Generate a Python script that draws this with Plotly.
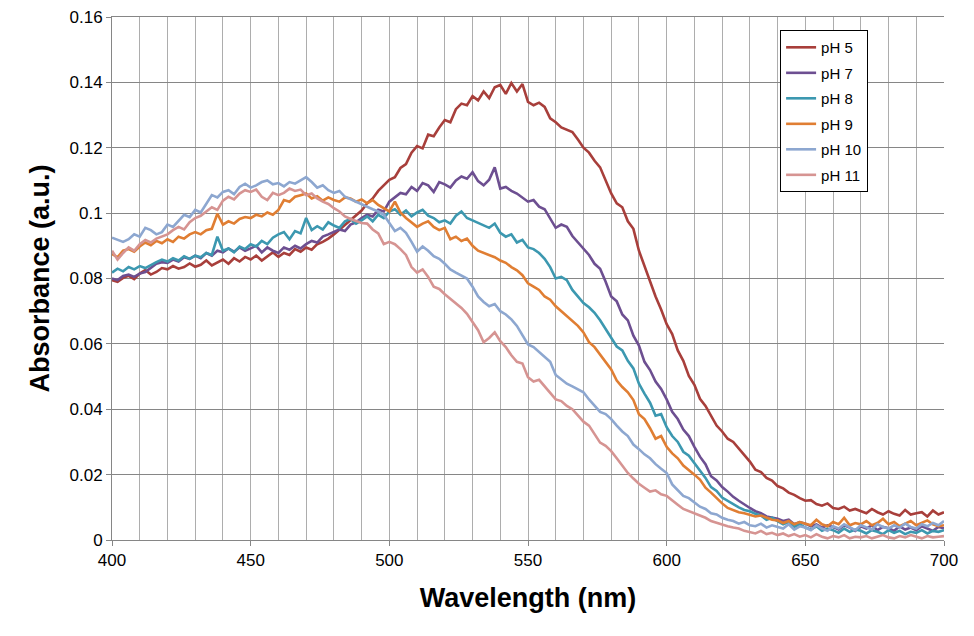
import plotly.graph_objects as go

wavelength = list(range(400, 701, 2))

ph5 = [0.0795, 0.0790, 0.0802, 0.0808, 0.0798, 0.0815, 0.0826, 0.0812, 0.0820, 0.0832,
       0.0828, 0.0838, 0.0830, 0.0835, 0.0846, 0.0836, 0.0842, 0.0855, 0.0840, 0.0850,
       0.0858, 0.0845, 0.0862, 0.0852, 0.0866, 0.0858, 0.0870, 0.0855, 0.0868, 0.0880,
       0.0866, 0.0878, 0.0872, 0.0890, 0.0882, 0.0895, 0.0888, 0.0905, 0.0912, 0.0922,
       0.0935, 0.0950, 0.0962, 0.0978, 0.0992, 0.1008, 0.1030, 0.1045, 0.1068, 0.1085,
       0.1102, 0.1110, 0.1138, 0.1150, 0.1185, 0.1205, 0.1198, 0.1240, 0.1235, 0.1262,
       0.1285, 0.1278, 0.1318, 0.1335, 0.1330, 0.1358, 0.1345, 0.1372, 0.1352, 0.1385,
       0.1392, 0.1365, 0.1398, 0.1372, 0.1395, 0.1340, 0.1330, 0.1338, 0.1325, 0.1290,
       0.1278, 0.1262, 0.1255, 0.1248, 0.1225, 0.1200, 0.1185, 0.1160, 0.1140, 0.1102,
       0.1060, 0.1030, 0.1018, 0.0975, 0.0952, 0.0885, 0.0838, 0.0795, 0.0745, 0.0705,
       0.0660, 0.0630, 0.0580, 0.0548, 0.0502, 0.0475, 0.0432, 0.0410, 0.0378, 0.0350,
       0.0332, 0.0310, 0.0300, 0.0280, 0.0258, 0.0240, 0.0215, 0.0208, 0.0190, 0.0182,
       0.0165, 0.0158, 0.0145, 0.0138, 0.0128, 0.0120, 0.0122, 0.0110, 0.0105, 0.0112,
       0.0098, 0.0095, 0.0102, 0.0090, 0.0095, 0.0088, 0.0082, 0.0095, 0.0085, 0.0078,
       0.0088, 0.0080, 0.0075, 0.0092, 0.0078, 0.0082, 0.0085, 0.0072, 0.0090, 0.0078,
       0.0085]

ph7 = [0.0800, 0.0795, 0.0808, 0.0812, 0.0805, 0.0815, 0.0820, 0.0832, 0.0845, 0.0850,
       0.0848, 0.0858, 0.0852, 0.0865, 0.0860, 0.0870, 0.0862, 0.0878, 0.0870, 0.0885,
       0.0880, 0.0892, 0.0882, 0.0895, 0.0885, 0.0892, 0.0900, 0.0880, 0.0895, 0.0885,
       0.0878, 0.0895, 0.0888, 0.0900, 0.0892, 0.0905, 0.0915, 0.0910, 0.0928, 0.0935,
       0.0942, 0.0950, 0.0945, 0.0965, 0.0972, 0.0985, 0.0995, 0.0990, 0.1010, 0.1005,
       0.1035, 0.1048, 0.1062, 0.1058, 0.1080, 0.1068, 0.1092, 0.1085, 0.1065, 0.1095,
       0.1088, 0.1078, 0.1100, 0.1112, 0.1105, 0.1125, 0.1098, 0.1085, 0.1102, 0.1140,
       0.1075, 0.1080, 0.1068, 0.1060, 0.1048, 0.1035, 0.1040, 0.1020, 0.1012, 0.0985,
       0.0955, 0.0965, 0.0958, 0.0930, 0.0910, 0.0890, 0.0872, 0.0845, 0.0830, 0.0790,
       0.0745, 0.0730, 0.0690, 0.0672, 0.0625, 0.0595, 0.0545, 0.0520, 0.0485, 0.0462,
       0.0430, 0.0392, 0.0370, 0.0338, 0.0318, 0.0285, 0.0255, 0.0232, 0.0195, 0.0182,
       0.0162, 0.0148, 0.0132, 0.0120, 0.0108, 0.0098, 0.0088, 0.0082, 0.0072, 0.0068,
       0.0065, 0.0058, 0.0062, 0.0048, 0.0055, 0.0050, 0.0042, 0.0048, 0.0038, 0.0045,
       0.0040, 0.0032, 0.0045, 0.0038, 0.0028, 0.0042, 0.0035, 0.0045, 0.0030, 0.0040,
       0.0036, 0.0028, 0.0042, 0.0032, 0.0038, 0.0030, 0.0042, 0.0035, 0.0028, 0.0040,
       0.0036]

ph8 = [0.0818, 0.0830, 0.0822, 0.0835, 0.0828, 0.0838, 0.0832, 0.0842, 0.0850, 0.0858,
       0.0852, 0.0862, 0.0855, 0.0868, 0.0860, 0.0870, 0.0865, 0.0878, 0.0872, 0.0928,
       0.0885, 0.0892, 0.0880, 0.0898, 0.0890, 0.0905, 0.0898, 0.0915, 0.0905, 0.0925,
       0.0935, 0.0942, 0.0920, 0.0945, 0.0938, 0.0985, 0.0948, 0.0960, 0.0950, 0.0972,
       0.0962, 0.0955, 0.0975, 0.0982, 0.0968, 0.0978, 0.0990, 0.0975, 0.0995, 0.0985,
       0.1005, 0.1012, 0.0995, 0.1008, 0.0990, 0.1002, 0.1010, 0.0992, 0.0985, 0.0972,
       0.0978, 0.0968, 0.0992, 0.1005, 0.0985, 0.0978, 0.0970, 0.0962, 0.0955, 0.0968,
       0.0940, 0.0928, 0.0935, 0.0910, 0.0918, 0.0895, 0.0890, 0.0878, 0.0860, 0.0835,
       0.0800, 0.0805, 0.0795, 0.0765, 0.0745, 0.0725, 0.0712, 0.0695, 0.0672, 0.0645,
       0.0620, 0.0592, 0.0580, 0.0548, 0.0525, 0.0478, 0.0448, 0.0420, 0.0380, 0.0385,
       0.0345, 0.0318, 0.0300, 0.0270, 0.0258, 0.0235, 0.0212, 0.0190, 0.0162, 0.0150,
       0.0130, 0.0120, 0.0108, 0.0100, 0.0092, 0.0088, 0.0080, 0.0075, 0.0062, 0.0068,
       0.0058, 0.0048, 0.0055, 0.0040, 0.0048, 0.0038, 0.0032, 0.0042, 0.0028, 0.0035,
       0.0030, 0.0022, 0.0035, 0.0025, 0.0032, 0.0028, 0.0020, 0.0030, 0.0025, 0.0018,
       0.0030, 0.0022, 0.0028, 0.0018, 0.0025, 0.0022, 0.0030, 0.0020, 0.0028, 0.0025,
       0.0030]

ph9 = [0.0875, 0.0865, 0.0885, 0.0890, 0.0882, 0.0898, 0.0910, 0.0902, 0.0915, 0.0908,
       0.0920, 0.0912, 0.0928, 0.0922, 0.0935, 0.0942, 0.0935, 0.0948, 0.0952, 0.0998,
       0.0965, 0.0975, 0.0968, 0.0982, 0.0988, 0.0985, 0.0995, 0.0990, 0.1002, 0.0995,
       0.1010, 0.1040, 0.1035, 0.1050, 0.1055, 0.1060, 0.1045, 0.1052, 0.1038, 0.1048,
       0.1040, 0.1035, 0.1048, 0.1045, 0.1035, 0.1042, 0.1030, 0.1040, 0.1025, 0.1015,
       0.1005, 0.1035, 0.1002, 0.0985, 0.0972, 0.0958, 0.0968, 0.0975, 0.0958, 0.0948,
       0.0955, 0.0920, 0.0928, 0.0915, 0.0922, 0.0900, 0.0885, 0.0878, 0.0870, 0.0865,
       0.0855, 0.0848, 0.0835, 0.0825, 0.0810, 0.0785, 0.0775, 0.0765, 0.0745, 0.0735,
       0.0715, 0.0700, 0.0682, 0.0668, 0.0655, 0.0635, 0.0605, 0.0590, 0.0568, 0.0545,
       0.0522, 0.0488, 0.0468, 0.0452, 0.0428, 0.0385, 0.0370, 0.0342, 0.0310, 0.0318,
       0.0285, 0.0265, 0.0250, 0.0228, 0.0215, 0.0200, 0.0185, 0.0160, 0.0145, 0.0128,
       0.0112, 0.0098, 0.0092, 0.0085, 0.0082, 0.0078, 0.0072, 0.0075, 0.0068, 0.0062,
       0.0060, 0.0052, 0.0058, 0.0048, 0.0055, 0.0050, 0.0045, 0.0062, 0.0048, 0.0042,
       0.0055, 0.0048, 0.0068, 0.0045, 0.0052, 0.0048, 0.0058, 0.0045, 0.0052, 0.0065,
       0.0048, 0.0055, 0.0042, 0.0050, 0.0058, 0.0045, 0.0052, 0.0060, 0.0048, 0.0042,
       0.0045]

ph10 = [0.0925, 0.0918, 0.0912, 0.0920, 0.0935, 0.0928, 0.0955, 0.0948, 0.0935, 0.0942,
        0.0965, 0.0958, 0.0978, 0.0995, 0.0988, 0.1010, 0.1002, 0.1030, 0.1055, 0.1048,
        0.1065, 0.1070, 0.1058, 0.1080, 0.1090, 0.1078, 0.1085, 0.1095, 0.1100, 0.1088,
        0.1092, 0.1082, 0.1095, 0.1090, 0.1100, 0.1110, 0.1095, 0.1078, 0.1085, 0.1070,
        0.1062, 0.1068, 0.1050, 0.1042, 0.1035, 0.1028, 0.1020, 0.1012, 0.1005, 0.0995,
        0.0970, 0.0945, 0.0955, 0.0940, 0.0912, 0.0882, 0.0898, 0.0885, 0.0868, 0.0860,
        0.0845, 0.0828, 0.0818, 0.0808, 0.0800, 0.0775, 0.0745, 0.0728, 0.0715, 0.0722,
        0.0700, 0.0690, 0.0675, 0.0655, 0.0628, 0.0598, 0.0590, 0.0575, 0.0560, 0.0545,
        0.0505, 0.0490, 0.0478, 0.0470, 0.0462, 0.0452, 0.0430, 0.0412, 0.0392, 0.0385,
        0.0370, 0.0350, 0.0332, 0.0318, 0.0292, 0.0278, 0.0262, 0.0250, 0.0232, 0.0218,
        0.0205, 0.0170, 0.0152, 0.0135, 0.0128, 0.0115, 0.0102, 0.0095, 0.0082, 0.0078,
        0.0068, 0.0062, 0.0058, 0.0050, 0.0055, 0.0045, 0.0042, 0.0050, 0.0038, 0.0045,
        0.0040, 0.0035, 0.0048, 0.0032, 0.0042, 0.0038, 0.0030, 0.0045, 0.0035, 0.0028,
        0.0042, 0.0035, 0.0048, 0.0038, 0.0030, 0.0045, 0.0038, 0.0032, 0.0048, 0.0040,
        0.0035, 0.0045, 0.0038, 0.0050, 0.0040, 0.0035, 0.0048, 0.0042, 0.0052, 0.0045,
        0.0058]

ph11 = [0.0885, 0.0858, 0.0878, 0.0895, 0.0885, 0.0905, 0.0918, 0.0910, 0.0922, 0.0928,
        0.0935, 0.0948, 0.0958, 0.0950, 0.0972, 0.0985, 0.0992, 0.1005, 0.1018, 0.1010,
        0.1038, 0.1050, 0.1042, 0.1060, 0.1070, 0.1065, 0.1072, 0.1050, 0.1040, 0.1062,
        0.1055, 0.1062, 0.1075, 0.1068, 0.1072, 0.1055, 0.1060, 0.1045, 0.1035, 0.1028,
        0.1015, 0.1005, 0.0990, 0.0982, 0.0975, 0.0970, 0.0968, 0.0950, 0.0938, 0.0905,
        0.0912, 0.0905, 0.0890, 0.0872, 0.0835, 0.0818, 0.0828, 0.0805, 0.0775, 0.0768,
        0.0752, 0.0738, 0.0722, 0.0710, 0.0692, 0.0668, 0.0642, 0.0605, 0.0618, 0.0635,
        0.0608, 0.0590, 0.0565, 0.0545, 0.0540, 0.0498, 0.0485, 0.0490, 0.0470, 0.0452,
        0.0430, 0.0425, 0.0410, 0.0400, 0.0382, 0.0362, 0.0350, 0.0322, 0.0298, 0.0288,
        0.0272, 0.0250, 0.0228, 0.0205, 0.0188, 0.0172, 0.0160, 0.0148, 0.0152, 0.0140,
        0.0135, 0.0120, 0.0108, 0.0095, 0.0088, 0.0082, 0.0075, 0.0068, 0.0058, 0.0052,
        0.0048, 0.0042, 0.0038, 0.0035, 0.0028, 0.0025, 0.0020, 0.0028, 0.0018, 0.0022,
        0.0015, 0.0020, 0.0012, 0.0018, 0.0010, 0.0015, 0.0008, 0.0018, 0.0010, 0.0005,
        0.0012, 0.0008, 0.0015, 0.0005, 0.0010, 0.0008, 0.0012, 0.0005, 0.0010, 0.0015,
        0.0008, 0.0005, 0.0012, 0.0008, 0.0015, 0.0010, 0.0005, 0.0012, 0.0008, 0.0010,
        0.0012]

series_names = ["pH 5", "pH 7", "pH 8", "pH 9", "pH 10", "pH 11"]
series_values = [ph5, ph7, ph8, ph9, ph10, ph11]
series_colors = ["#A83F3B", "#6D4F91", "#3C98B0", "#E07E33", "#8DA7D0", "#D69492"]

fig = go.Figure()
for i, (name, vals, col) in enumerate(zip(series_names, series_values, series_colors)):
    fig.add_trace(go.Scatter(
        x=wavelength, y=vals, mode="lines", name=name,
        line=dict(color=col, width=2.6),
        legendgroup=f"g{i}",
    ))

axis_col = "#868686"
fig.update_layout(
    width=974, height=636,
    margin=dict(l=104, r=38, t=9, b=104, autoexpand=False),
    paper_bgcolor="white", plot_bgcolor="white",
    font=dict(family="Liberation Sans, Arial, sans-serif", size=16, color="black"),
    showlegend=True,
    legend=dict(
        x=0.803, y=0.975, xanchor="left", yanchor="top",
        bgcolor="white", bordercolor="black", borderwidth=1,
        font=dict(size=15, color="black"),
        traceorder="grouped", tracegroupgap=3,
        entrywidth=58,
    ),
    xaxis=dict(
        range=[400, 700], dtick=50, tick0=400,
        showgrid=True, gridcolor="#ADADAD", gridwidth=1,
        minor=dict(dtick=10, showgrid=True, gridcolor="#ADADAD", gridwidth=1, ticks=""),
        showline=True, linecolor=axis_col, linewidth=1,
        ticks="outside", ticklen=5, tickcolor=axis_col,
        zeroline=False, mirror=True,
        title=dict(text="<b>Wavelength (nm)</b>", font=dict(size=27), standoff=18),
        tickfont=dict(size=17),
    ),
    yaxis=dict(
        range=[0, 0.16],
        tickvals=[0, 0.02, 0.04, 0.06, 0.08, 0.1, 0.12, 0.14, 0.16],
        ticktext=["0", "0.02", "0.04", "0.06", "0.08", "0.1", "0.12", "0.14", "0.16"],
        showgrid=True, gridcolor=axis_col, gridwidth=1,
        showline=True, linecolor=axis_col, linewidth=1,
        ticks="outside", ticklen=5, tickcolor=axis_col,
        zeroline=False, ticklabeloverflow="allow",
        title=dict(text="<b>Absorbance (a.u.)</b>", font=dict(size=27), standoff=12),
        tickfont=dict(size=17),
    ),
)

fig.write_html("out.html")
